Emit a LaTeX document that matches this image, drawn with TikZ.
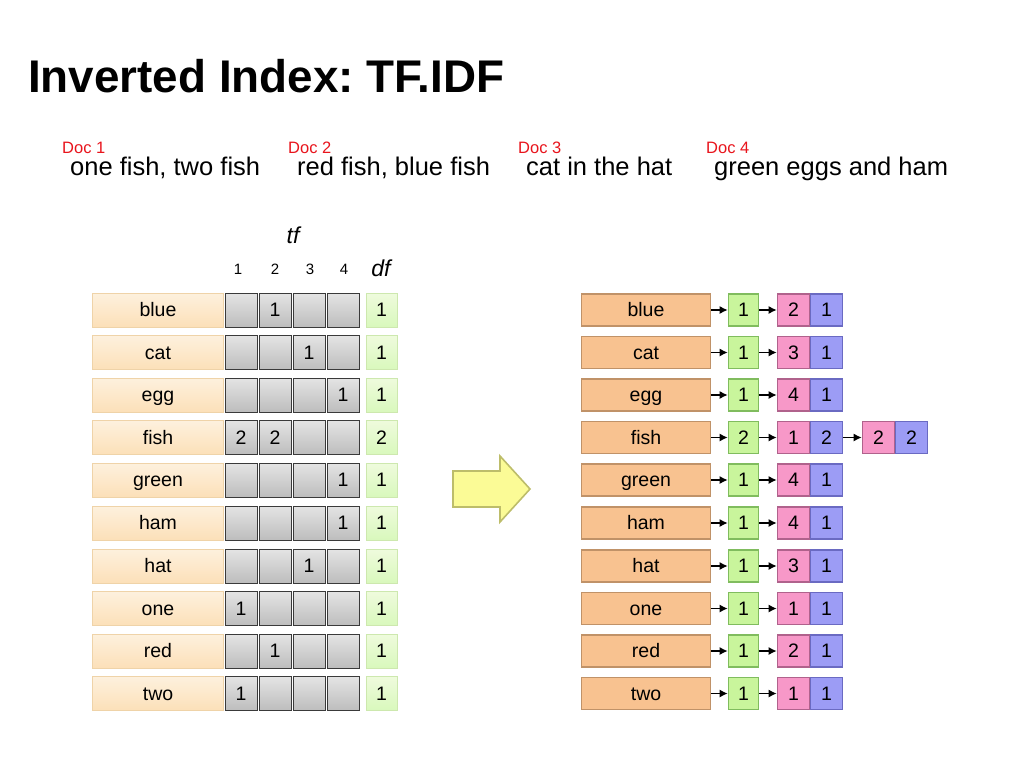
\documentclass[tikz,border=0pt]{standalone}
\usepackage{fontspec}
\setmainfont{Liberation Sans}
\usetikzlibrary{arrows.meta}
\frenchspacing
\definecolor{lterm}{HTML}{FCE5C2}
\definecolor{ltermd}{HTML}{EFD3A8}
\definecolor{cellg}{HTML}{D2D2D2}
\definecolor{cellgd}{HTML}{3A3A3A}
\definecolor{dfg}{HTML}{E4F8C6}
\definecolor{dfgd}{HTML}{CDE8AE}
\definecolor{rterm}{HTML}{F8C290}
\definecolor{rtermd}{HTML}{C09268}
\definecolor{gr}{HTML}{C9F59C}
\definecolor{grd}{HTML}{80BC5E}
\definecolor{pk}{HTML}{F798C8}
\definecolor{pkd}{HTML}{B0628C}
\definecolor{bl}{HTML}{9C9CF5}
\definecolor{bld}{HTML}{6A6AC2}
\definecolor{docred}{HTML}{E8141C}
\definecolor{yarrow}{HTML}{FBFB96}
\definecolor{yarrowd}{HTML}{BDBD6A}
\tikzset{
  base/.style={inner sep=0pt, font=\fontsize{19.5}{19.5}\selectfont, text=black, text height=15pt, text depth=2pt},
  lterm/.style={base, draw=ltermd, top color=lterm!55!white, bottom color=lterm!95!orange, line width=0.8pt, minimum width=131pt, minimum height=34pt},
  tfcell/.style={base, draw=cellgd, top color=cellg!60!white, bottom color=cellg!90!black, line width=0.8pt, minimum width=32pt, minimum height=34pt},
  dfcell/.style={base, draw=dfgd, top color=dfg!60!white, bottom color=dfg!95!green, line width=0.8pt, minimum width=31pt, minimum height=34pt},
  rterm/.style={base, draw=rtermd, fill=rterm, line width=1.6pt, minimum width=129pt, minimum height=32pt},
  gcell/.style={base, draw=grd, fill=gr, line width=1.6pt, minimum width=30pt, minimum height=32pt},
  pcell/.style={base, draw=pkd, fill=pk, line width=1.6pt, minimum width=32pt, minimum height=32pt},
  bcell/.style={base, draw=bld, fill=bl, line width=1.6pt, minimum width=32pt, minimum height=32pt},
  link/.style={-{Latex[length=8pt,width=8pt]}, line width=1.4pt, black},
  doclab/.style={anchor=base west, inner sep=0pt, text=docred, font=\fontsize{16.5}{16.5}\selectfont},
  doctext/.style={anchor=base west, inner sep=0pt, font=\fontsize{25.5}{25.5}\selectfont},
  hdr/.style={anchor=base, inner sep=0pt, font=\fontsize{15}{15}\selectfont},
}
\newcommand{\leftrow}[8]{%
  \node[lterm] (lt#1) at (158,#2) {#3};
  \node[tfcell] (ca#1) at (241,#2) {#4};
  \node[tfcell] (cb#1) at (275,#2) {#5};
  \node[tfcell] (cc#1) at (309,#2) {#6};
  \node[tfcell] (cd#1) at (343,#2) {#7};
  \node[dfcell] (df#1) at (381.5,#2) {#8};
}
\newcommand{\rightrow}[6]{%
  \node[rterm] (rt#1) at (646,#2) {#3};
  \node[gcell] (g#1) at (743.5,#2) {#4};
  \node[pcell] (p#1) at (793.5,#2) {#5};
  \node[bcell] (b#1) at (826.5,#2) {#6};
  \draw[link] (rt#1) -- (g#1);
  \draw[link] (g#1) -- (p#1);
}
\begin{document}
\begin{tikzpicture}[x=1pt,y=-1pt]
\useasboundingbox (0,0) rectangle (1024,768);
% title
\node[anchor=base west, inner sep=0pt, font=\fontsize{45.8}{45.8}\selectfont\bfseries] (title) at (28,92) {Inverted Index: TF.IDF};
% documents
\node[doclab] (d1) at (62,153) {Doc 1};
\node[doctext] (t1) at (70,175) {one fish, two fish};
\node[doclab] (d2) at (288,153) {Doc 2};
\node[doctext] (t2) at (297,175) {red fish, blue fish};
\node[doclab] (d3) at (518,153) {Doc 3};
\node[doctext] (t3) at (526,175) {cat in the hat};
\node[doclab] (d4) at (706,153) {Doc 4};
\node[doctext] (t4) at (714,175) {green eggs and ham};
% headers
\node[anchor=base, inner sep=0pt, font=\fontsize{23}{23}\selectfont\itshape] (tf) at (293,243) {tf};
\node[hdr] (h1) at (238,274) {1};
\node[hdr] (h2) at (275,274) {2};
\node[hdr] (h3) at (310,274) {3};
\node[hdr] (h4) at (344,274) {4};
\node[anchor=base, inner sep=0pt, font=\fontsize{23}{23}\selectfont\itshape] (dfh) at (381,276) {df};
% left table
\leftrow{0}{310}{blue}{}{1}{}{}{1}
\leftrow{1}{352.5}{cat}{}{}{1}{}{1}
\leftrow{2}{395}{egg}{}{}{}{1}{1}
\leftrow{3}{437.5}{fish}{2}{2}{}{}{2}
\leftrow{4}{480}{green}{}{}{}{1}{1}
\leftrow{5}{523}{ham}{}{}{}{1}{1}
\leftrow{6}{566}{hat}{}{}{1}{}{1}
\leftrow{7}{608.5}{one}{1}{}{}{}{1}
\leftrow{8}{651}{red}{}{1}{}{}{1}
\leftrow{9}{693.5}{two}{1}{}{}{}{1}
% big arrow
\draw[draw=yarrowd, fill=yarrow, line width=1.6pt, line join=miter]
  (453,471) -- (500,471) -- (500,456) -- (530,489) -- (500,522) -- (500,507) -- (453,507) -- cycle;
% right side
\rightrow{0}{310}{blue}{1}{2}{1}
\rightrow{1}{352.5}{cat}{1}{3}{1}
\rightrow{2}{395}{egg}{1}{4}{1}
\rightrow{3}{437.5}{fish}{2}{1}{2}
\rightrow{4}{480}{green}{1}{4}{1}
\rightrow{5}{523}{ham}{1}{4}{1}
\rightrow{6}{566}{hat}{1}{3}{1}
\rightrow{7}{608.5}{one}{1}{1}{1}
\rightrow{8}{651}{red}{1}{2}{1}
\rightrow{9}{693.5}{two}{1}{1}{1}
\node[pcell] (q3) at (878.5,437.5) {2};
\node[bcell] (c3) at (911.5,437.5) {2};
\draw[link] (b3) -- (q3);
\end{tikzpicture}
\end{document}
